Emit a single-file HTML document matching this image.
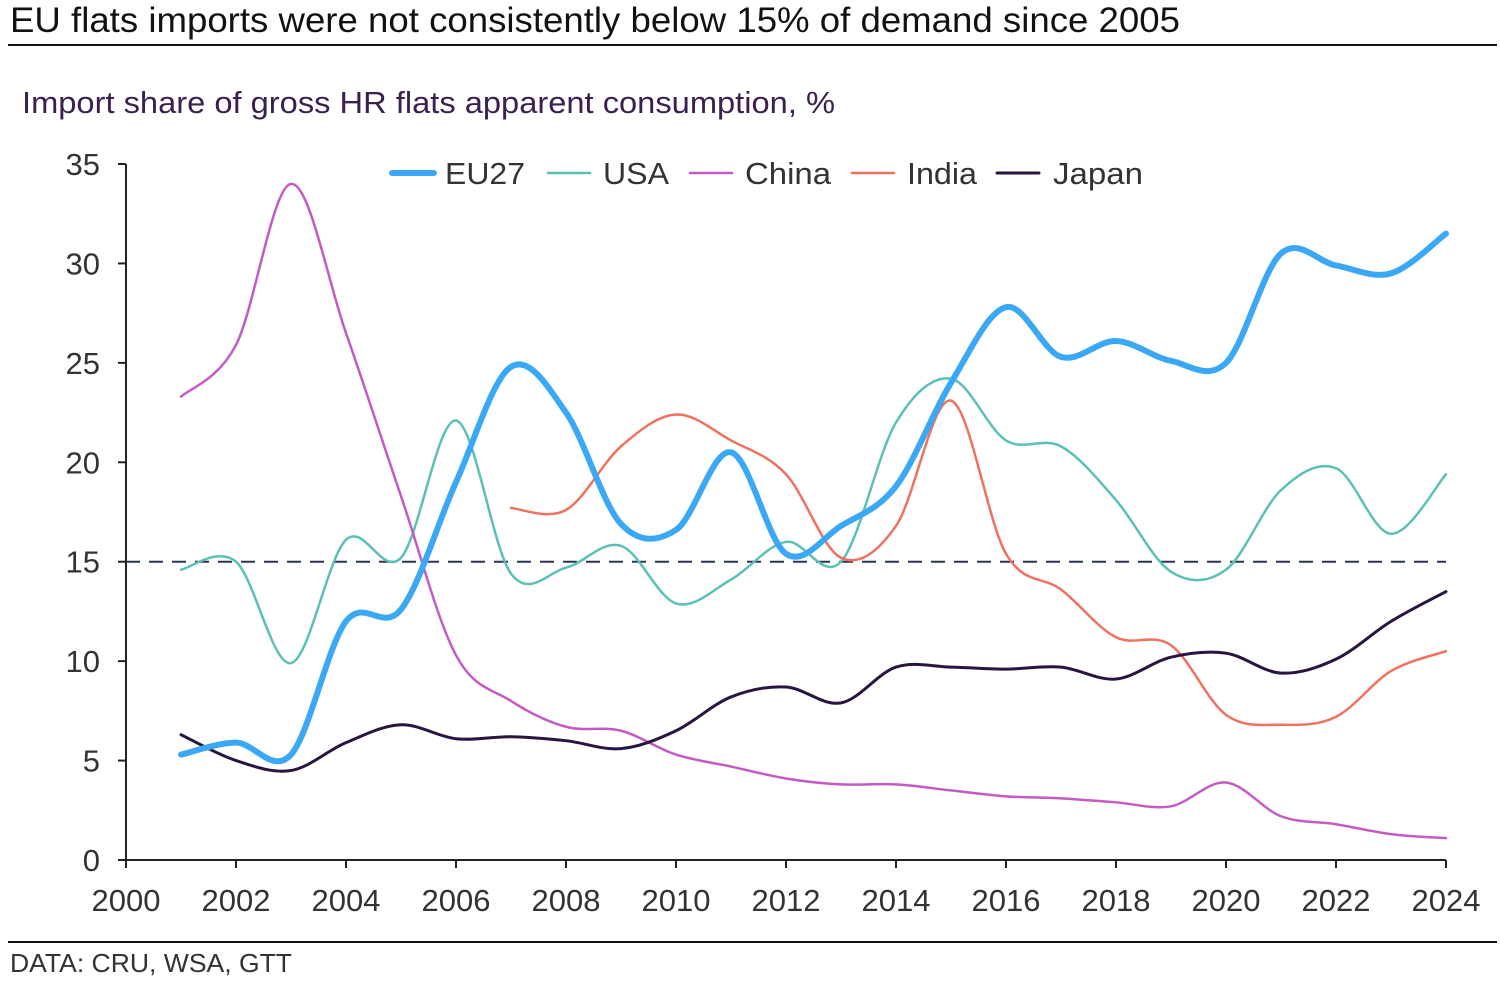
<!DOCTYPE html>
<html><head><meta charset="utf-8"><style>
body{margin:0;background:#fff;width:1500px;height:987px;overflow:hidden;font-family:"Liberation Sans",Arial,sans-serif}
</style></head><body>
<svg width="1500" height="987" xmlns="http://www.w3.org/2000/svg" font-family="Liberation Sans, Arial, sans-serif">
<text x="10" y="32" font-size="35" fill="#111" textLength="1170" lengthAdjust="spacingAndGlyphs">EU flats imports were not consistently below 15% of demand since 2005</text>
<line x1="8" y1="45" x2="1497" y2="45" stroke="#111" stroke-width="2"/>
<text x="22" y="113" font-size="31" fill="#3b1f4f" textLength="813" lengthAdjust="spacingAndGlyphs">Import share of gross HR flats apparent consumption, %</text>
<g id="axes"></g>
<g id="plot"></g>
<g id="legend"></g>
<line x1="8" y1="942" x2="1497" y2="942" stroke="#111" stroke-width="2"/>
<text x="10" y="972" font-size="26" fill="#333" textLength="282" lengthAdjust="spacingAndGlyphs">DATA: CRU, WSA, GTT</text>
</svg>
<script>
const years = [2001,2002,2003,2004,2005,2006,2007,2008,2009,2010,2011,2012,2013,2014,2015,2016,2017,2018,2019,2020,2021,2022,2023,2024];
const eu27 = [5.3,5.9,5.3,12,12.6,19,24.8,22.5,16.9,16.6,20.5,15.4,16.8,18.8,24,27.8,25.3,26.1,25.1,25,30.5,29.9,29.5,31.5];
const usa = [14.6,15,9.9,16.1,15.2,22.1,14.4,14.7,15.8,12.9,14.1,16,15,22,24.2,21.1,20.8,18.1,14.5,14.6,18.6,19.7,16.4,19.4];
const china = [23.3,25.9,34,26.5,18.3,10.3,8,6.7,6.5,5.3,4.7,4.1,3.8,3.8,3.5,3.2,3.1,2.9,2.7,3.9,2.2,1.8,1.3,1.1];
const indiaYears = [2007,2008,2009,2010,2011,2012,2013,2014,2015,2016,2017,2018,2019,2020,2021,2022,2023,2024];
const india = [17.7,17.6,20.8,22.4,21.1,19.4,15.2,16.8,23.1,15.4,13.6,11.2,10.8,7.3,6.8,7.2,9.5,10.5];
const japan = [6.3,5,4.5,5.9,6.8,6.1,6.2,6,5.6,6.5,8.2,8.7,7.9,9.7,9.7,9.6,9.7,9.1,10.2,10.4,9.4,10.1,12,13.5];
const xTicks = [2000,2002,2004,2006,2008,2010,2012,2014,2016,2018,2020,2022,2024];
const yTicks = [0,5,10,15,20,25,30,35];
const threshold = 15;

const NS="http://www.w3.org/2000/svg";
const X0=126,X1=1446,Y0=860,Y1=164;
const x=v=>X0+(v-2000)*(X1-X0)/24;
const y=v=>Y0-v*(Y0-Y1)/35;
function mk(tag,attrs,parent){const e=document.createElementNS(NS,tag);for(const k in attrs)e.setAttribute(k,attrs[k]);parent.appendChild(e);return e;}
const axes=document.getElementById('axes'),plot=document.getElementById('plot'),legend=document.getElementById('legend');
let a=mk('line',{x1:X0,y1:Y1,x2:X0,y2:Y0,stroke:'#222','stroke-width':2},axes);


a=mk('line',{x1:X0,y1:Y0,x2:X1,y2:Y0,stroke:'#222','stroke-width':2},axes);


yTicks.forEach(t=>{
  mk('line',{x1:X0-8,x2:X0,y1:y(t),y2:y(t),stroke:'#222','stroke-width':2},axes);
  const tx=mk('text',{x:X0-26,y:y(t)+11,'font-size':31,'text-anchor':'end',fill:'#333'},axes);
  tx.textContent=t;
  
  
});
xTicks.forEach(t=>{
  mk('line',{x1:x(t),x2:x(t),y1:Y0,y2:Y0+8,stroke:'#222','stroke-width':2},axes);
  const tx=mk('text',{x:x(t),y:Y0+51,'font-size':31,'text-anchor':'middle',fill:'#333'},axes);
  tx.textContent=t;
  
  
});
const th=mk('line',{x1:X0,x2:X1,y1:y(threshold),y2:y(threshold),stroke:'#2b3450','stroke-width':2,'stroke-dasharray':'14,9'},plot);


function path(xs,ys){
  const p=xs.map((v,i)=>[x(v),y(ys[i])]);
  let d='M'+p[0][0]+','+p[0][1];
  for(let i=0;i<p.length-1;i++){
    const p0=p[i-1]||p[i],p1=p[i],p2=p[i+1],p3=p[i+2]||p2;
    const c1=[p1[0]+(p2[0]-p0[0])/6,p1[1]+(p2[1]-p0[1])/6];
    const c2=[p2[0]-(p3[0]-p1[0])/6,p2[1]-(p3[1]-p1[1])/6];
    d+=` C${c1[0]},${c1[1]} ${c2[0]},${c2[1]} ${p2[0]},${p2[1]}`;
  }
  return d;
}
const series=[
  ['usa',years,usa,'#5bc0b5',2.5],
  ['china',years,china,'#c35bc3',2.5],
  ['india',indiaYears,india,'#f0715f',2.5],
  ['japan',years,japan,'#2a1440',3],
  ['eu27',years,eu27,'#3aa8f5',6]];
series.forEach(s=>{
  const e=mk('path',{d:path(s[1],s[2]),fill:'none',stroke:s[3],'stroke-width':s[4],'stroke-linecap':'round'},plot);
  
  
});
const leg=[['EU27','#3aa8f5',6,392,445,80],['USA','#5bc0b5',2.5,548,603,66],['China','#c35bc3',2.5,690,745,86],['India','#f0715f',2.5,852,907,70],['Japan','#2a1440',3,997,1053,90]];
leg.forEach(l=>{
  const g=mk('g',{},legend);
  
  
  mk('line',{x1:l[3],x2:l[3]+42,y1:173,y2:173,stroke:l[1],'stroke-width':l[2],'stroke-linecap':'round'},g);
  const t=mk('text',{x:l[4],y:184,'font-size':31,fill:'#333',textLength:l[5],lengthAdjust:'spacingAndGlyphs'},g);
  t.textContent=l[0];
});
</script>
</body></html>
